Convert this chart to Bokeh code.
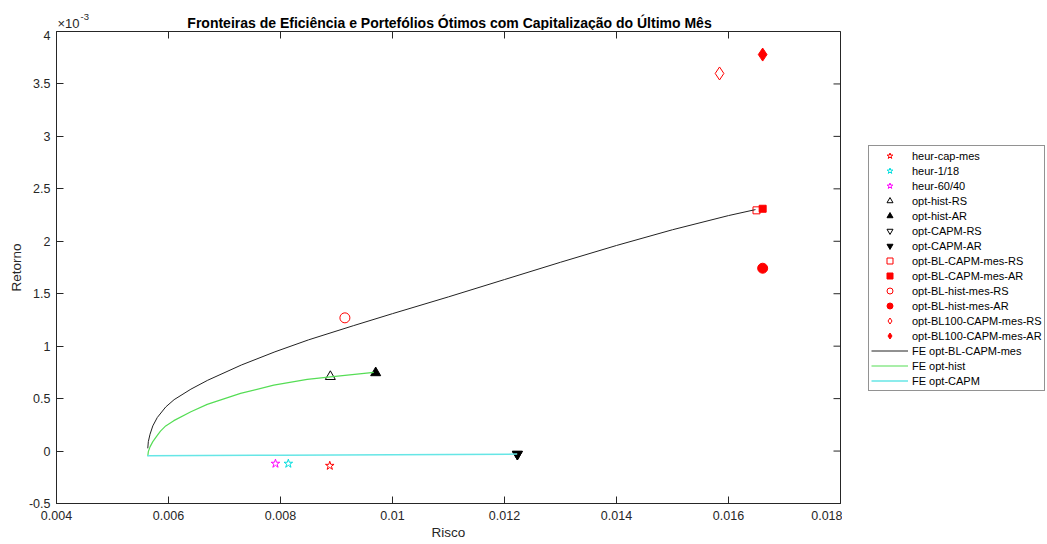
import math
from bokeh.plotting import figure
from bokeh.layouts import column, row
from bokeh.models import (Range1d, FixedTicker, CustomJSTickFormatter,
                          Legend, LegendItem, Label)
from bokeh.embed import file_html
from bokeh.resources import INLINE

# ---------------- data (risk, return in units of 1e-3) ----------------
heur_cap_x = [0.00888]; heur_cap_y = [-0.14]
heur_118_x = [0.00814]; heur_118_y = [-0.12]
heur_6040_x = [0.00791]; heur_6040_y = [-0.12]
opt_hist_rs_x = [0.00889]; opt_hist_rs_y = [0.71]
opt_hist_ar_x = [0.00970]; opt_hist_ar_y = [0.746]
opt_capm_rs_x = [0.01223]; opt_capm_rs_y = [-0.03]
opt_capm_ar_x = [0.01223]; opt_capm_ar_y = [-0.03]
bl_capm_rs_x = [0.01650]; bl_capm_rs_y = [2.295]
bl_capm_ar_x = [0.01661]; bl_capm_ar_y = [2.31]
bl_hist_rs_x = [0.00915]; bl_hist_rs_y = [1.27]
bl_hist_ar_x = [0.01661]; bl_hist_ar_y = [1.743]
bl100_rs_x = [0.01584]; bl100_rs_y = [3.60]
bl100_ar_x = [0.01661]; bl100_ar_y = [3.78]

fe_bl_x = [0.00563, 0.00564, 0.00567, 0.00572, 0.00580, 0.00595, 0.00610, 0.0064,
           0.0067, 0.0073, 0.0079, 0.0085, 0.0093, 0.0100, 0.0110, 0.0120, 0.0130,
           0.0140, 0.0150, 0.0160, 0.016482]
fe_bl_y = [0.026, 0.09, 0.16, 0.24, 0.32, 0.42, 0.49, 0.59, 0.675, 0.82, 0.946,
           1.06, 1.195, 1.31, 1.47, 1.635, 1.80, 1.96, 2.11, 2.245, 2.302]
fe_hist_x = [0.00563, 0.00564, 0.00567, 0.00572, 0.00580, 0.005857, 0.00595,
             0.006095, 0.0064, 0.006691, 0.007286, 0.007880, 0.008477, 0.008893,
             0.009666]
fe_hist_y = [-0.048, -0.005, 0.04, 0.09, 0.15, 0.19, 0.24, 0.29, 0.375, 0.445,
             0.550, 0.629, 0.683, 0.708, 0.750]
fe_capm_x = [0.00562, 0.0080, 0.0100, 0.012227]
fe_capm_y = [-0.045, -0.040, -0.035, -0.029]

x_ticks = [0.004, 0.006, 0.008, 0.01, 0.012, 0.014, 0.016, 0.018]
y_ticks = [-0.5, 0, 0.5, 1, 1.5, 2, 2.5, 3, 3.5, 4]
x_min, x_max = 0.004, 0.018
y_min, y_max = -0.5, 4

title_text = "Fronteiras de Eficiência e Portefólios Ótimos com Capitalização do Último Mês"
names = ["heur-cap-mes", "heur-1/18", "heur-60/40", "opt-hist-RS", "opt-hist-AR",
         "opt-CAPM-RS", "opt-CAPM-AR", "opt-BL-CAPM-mes-RS", "opt-BL-CAPM-mes-AR",
         "opt-BL-hist-mes-RS", "opt-BL-hist-mes-AR", "opt-BL100-CAPM-mes-RS",
         "opt-BL100-CAPM-mes-AR", "FE opt-BL-CAPM-mes", "FE opt-hist", "FE opt-CAPM"]

FONT = "Liberation Sans"
AX = "#262626"
R = "#ff0000"

# marker styles: (x, y, marker, size, fill, line)
marker_specs = [
    (heur_cap_x, heur_cap_y, "star", 9, None, R),
    (heur_118_x, heur_118_y, "star", 9, None, "#00dede"),
    (heur_6040_x, heur_6040_y, "star", 9, None, "#ff00ff"),
    (opt_hist_rs_x, opt_hist_rs_y, "triangle", 10, None, "black"),
    (opt_hist_ar_x, opt_hist_ar_y, "triangle", 10, "black", "black"),
    (opt_capm_rs_x, opt_capm_rs_y, "inverted_triangle", 10, None, "black"),
    (opt_capm_ar_x, opt_capm_ar_y, "inverted_triangle", 10, "black", "black"),
    (bl_capm_rs_x, bl_capm_rs_y, "square", 7, None, R),
    (bl_capm_ar_x, bl_capm_ar_y, "square", 7, R, R),
    (bl_hist_rs_x, bl_hist_rs_y, "circle", 10, None, R),
    (bl_hist_ar_x, bl_hist_ar_y, "circle", 10, R, R),
    (bl100_rs_x, bl100_rs_y, "diamond", 13, None, R),
    (bl100_ar_x, bl100_ar_y, "diamond", 13, R, R),
]
line_specs = [
    (fe_bl_x, fe_bl_y, "#222222", 1),
    (fe_hist_x, fe_hist_y, "#55dd55", 1.2),
    (fe_capm_x, fe_capm_y, "#66e6e6", 1.5),
]

# ---------------- header (title + axis exponent) ----------------
header = figure(width=1047, height=30, output_backend="svg", toolbar_location=None,
                x_range=Range1d(0, 1047), y_range=Range1d(0, 30),
                x_axis_location=None, y_axis_location=None, min_border=0,
                outline_line_color=None, title=None)
header.grid.visible = False
header.add_layout(Label(x=449, y=8, text=title_text, text_align="center",
                        text_baseline="alphabetic", text_font=FONT, text_font_size="14px",
                        text_font_style="bold", text_color="black"))
header.add_layout(Label(x=57, y=7, text="×10", text_align="left",
                        text_baseline="alphabetic", text_font=FONT, text_font_size="13px",
                        text_color=AX))
header.add_layout(Label(x=80, y=14, text="-3", text_align="left",
                        text_baseline="alphabetic", text_font=FONT, text_font_size="9.5px",
                        text_color=AX))

# ---------------- main plot ----------------
p = figure(width=842, height=514, output_backend="svg", toolbar_location=None,
           x_range=Range1d(x_min, x_max), y_range=Range1d(y_min, y_max),
           min_border_left=56, min_border_right=2, min_border_top=1,
           min_border_bottom=41, background_fill_color="white",
           border_fill_color="white", outline_line_color=AX, title=None)
p.grid.visible = False

fmt = CustomJSTickFormatter(code="return tick.toString();")
xa = p.xaxis[0]; ya = p.yaxis[0]
for ax, ticks in ((xa, x_ticks), (ya, y_ticks)):
    ax.ticker = FixedTicker(ticks=ticks)
    ax.formatter = fmt
    ax.axis_line_color = AX
    ax.major_tick_line_color = AX
    ax.major_tick_in = 7
    ax.major_tick_out = 0
    ax.minor_tick_line_color = None
    ax.major_label_text_font = FONT
    ax.major_label_text_font_size = "12.5px"
    ax.major_label_text_color = AX
    ax.axis_label_text_font = FONT
    ax.axis_label_text_font_size = "13.5px"
    ax.axis_label_text_font_style = "normal"
    ax.axis_label_text_color = AX
xa.axis_label = "Risco"; ya.axis_label = "Retorno"
xa.major_label_standoff = 7
ya.major_label_standoff = 6
xa.axis_label_standoff = 2
ya.axis_label_standoff = 2

# inward ticks on the top and right edges (outer half of each dash is clipped by the frame)
p.scatter(x_ticks, [y_max] * len(x_ticks), marker="dash", angle=math.pi / 2, size=14,
          line_color=AX, line_width=1)
p.scatter([x_max] * len(y_ticks), y_ticks, marker="dash", size=14,
          line_color=AX, line_width=1)

for x, y, m, s, f, c in marker_specs:
    p.scatter(x, y, marker=m, size=s, fill_color=f, line_color=c, line_width=1)
for x, y, c, w in line_specs:
    p.line(x, y, line_color=c, line_width=w)

# ---------------- legend panel (outside the axes, as in the original) ----------------
# the proxy glyphs sit outside this panel's visible range; only their legend swatches show
lp = figure(width=205, height=514, output_backend="svg", toolbar_location=None,
            x_range=Range1d(0, 1), y_range=Range1d(0, 1),
            x_axis_location=None, y_axis_location=None, min_border=0,
            outline_line_color=None, title=None)
lp.grid.visible = False
proxies = []
for x, y, m, s, f, c in marker_specs:
    proxies.append(lp.scatter([5], [5], marker=m, size=s, fill_color=f, line_color=c, line_width=1))
for x, y, c, w in line_specs:
    proxies.append(lp.line([5, 6], [5, 6], line_color=c, line_width=w))
legend = Legend(items=[LegendItem(label=n, renderers=[r]) for n, r in zip(names, proxies)],
                location=(26, 112), orientation="vertical",
                label_text_font=FONT, label_text_font_size="11px", label_text_color="black",
                label_height=15, glyph_height=15, glyph_width=37, spacing=0, padding=2,
                margin=0, label_standoff=4, border_line_color=AX, border_line_width=1,
                background_fill_color="white", background_fill_alpha=1)
lp.add_layout(legend)

layout = column(header, row(p, lp, spacing=0), spacing=0)
open("out.html", "w").write(file_html(layout, INLINE))
